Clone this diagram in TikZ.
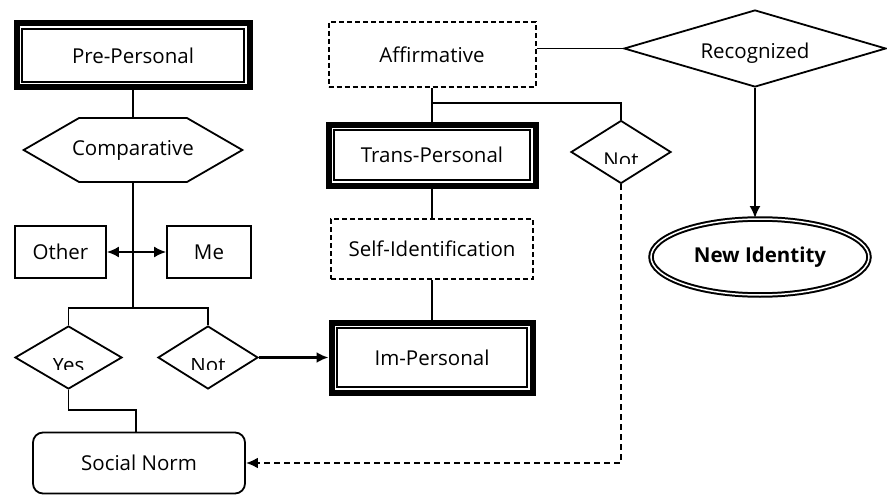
\documentclass[tikz,border=0pt]{standalone}
\usepackage{fontspec}
\setmainfont{Open Sans}
\usepackage{trimclip}
\usetikzlibrary{shapes.geometric,shapes.symbols,arrows.meta,calc}

\tikzset{
  framebox/.style={draw, fill=white, line width=1.2pt, inner sep=0pt, outer sep=8.5pt,
    preaction={draw, line width=17pt},
    preaction={draw, white, line width=5pt}},
  dashbox/.style={draw, dash pattern=on 5pt off 3pt, line width=2pt, inner sep=0pt},
  plainbox/.style={draw, line width=1.8pt, inner sep=0pt},
  softbox/.style={draw, line width=1.8pt, rounded corners=10pt, inner sep=0pt},
  decide/.style={diamond, aspect=2, draw, line width=1.8pt, inner sep=0pt},
  hexa/.style={signal, signal to=east and west, signal pointer angle=60,
    draw, line width=1.8pt, inner xsep=-7pt, inner ysep=0pt},
  oval/.style={ellipse, draw, double, line width=2pt, double distance=1.5pt, inner sep=0pt},
  link/.style={line width=1.8pt},
  tip/.style={-{Latex[length=12pt,width=11pt]}},
}
\newcommand{\cut}[1]{\raisebox{-11.5pt}[0pt][0pt]{\clipbox{0pt 4pt 0pt 0pt}{#1}}}

\begin{document}
\begin{tikzpicture}[x=1pt,y=-1pt,font=\fontsize{20.5}{24}\selectfont]
  \useasboundingbox (0,0) rectangle (887,495);

  % left column
  \node[framebox, minimum width=222pt, minimum height=53pt] (pre) at (133,55.5) {Pre-Personal};
  \node[hexa, minimum height=64pt] (cmp) at (133,150) {Comparative};
  \node[plainbox, minimum width=91pt, minimum height=52pt] (oth) at (60.5,252) {Other};
  \node[plainbox, minimum width=84pt, minimum height=52pt] (me) at (209,252) {Me};
  \node[decide, minimum width=107pt, minimum height=63pt] (yes) at (68.5,357.5) {\cut{Yes}};
  \node[decide, minimum width=100pt, minimum height=63pt] (nol) at (208,357.5) {\cut{Not}};
  \node[softbox, minimum width=212pt, minimum height=61pt] (soc) at (139,463) {Social Norm};

  % middle column
  \node[dashbox, minimum width=207pt, minimum height=65pt] (aff) at (432,54.5) {Affirmative};
  \node[framebox, minimum width=196pt, minimum height=50pt] (trans) at (432,155) {Trans-Personal};
  \node[dashbox, minimum width=202pt, minimum height=60pt] (self) at (432,249) {Self-Identification};
  \node[framebox, minimum width=190pt, minimum height=59pt] (im) at (432,357.5) {Im-Personal};

  % right column
  \node[decide, minimum width=262pt, minimum height=77pt] (rec) at (755,48.5) {\raisebox{-10pt}[0pt][0pt]{Recognized}};
  \node[decide, minimum width=100pt, minimum height=63pt] (nor) at (621,152) {\cut{Not}};
  \node[oval, minimum width=218pt, minimum height=76pt, font=\fontsize{20.5}{24}\selectfont\bfseries] (ni) at (760,257) {New Identity};

  \coordinate (j1) at (133,308);
  \coordinate (j2) at (136,410);
  \coordinate (j3) at (432,103);

  \draw[link] (pre.south) -- (cmp.north);
  \draw[link] (cmp.south) -- (j1);
  \draw[link] (yes.north) |- (j1) -| (nol.north);
  \draw[link, {Latex[length=12pt,width=11pt]}-{Latex[length=12pt,width=11pt]}] (oth.east) -- (me.west);
  \draw[link] (yes.south) |- (j2) -- (j2 |- soc.north);
  \draw[line width=2.8pt, tip] (nol.east) -- (im.west);

  \draw[link] (aff.south) -- (trans.north);
  \draw[link] (trans.south) -- (self.north);
  \draw[link] (self.south) -- (im.north);
  \draw[link] (j3) -| (nor.north);
  \draw[link] (rec.west -| aff.east) -- (rec.west);
  \draw[link, tip] (rec.south) -- (rec.south |- ni.north);
  \draw[line width=2.4pt, dash pattern=on 6pt off 4pt, tip] (nor.south) |- (soc.east);
\end{tikzpicture}
\end{document}
